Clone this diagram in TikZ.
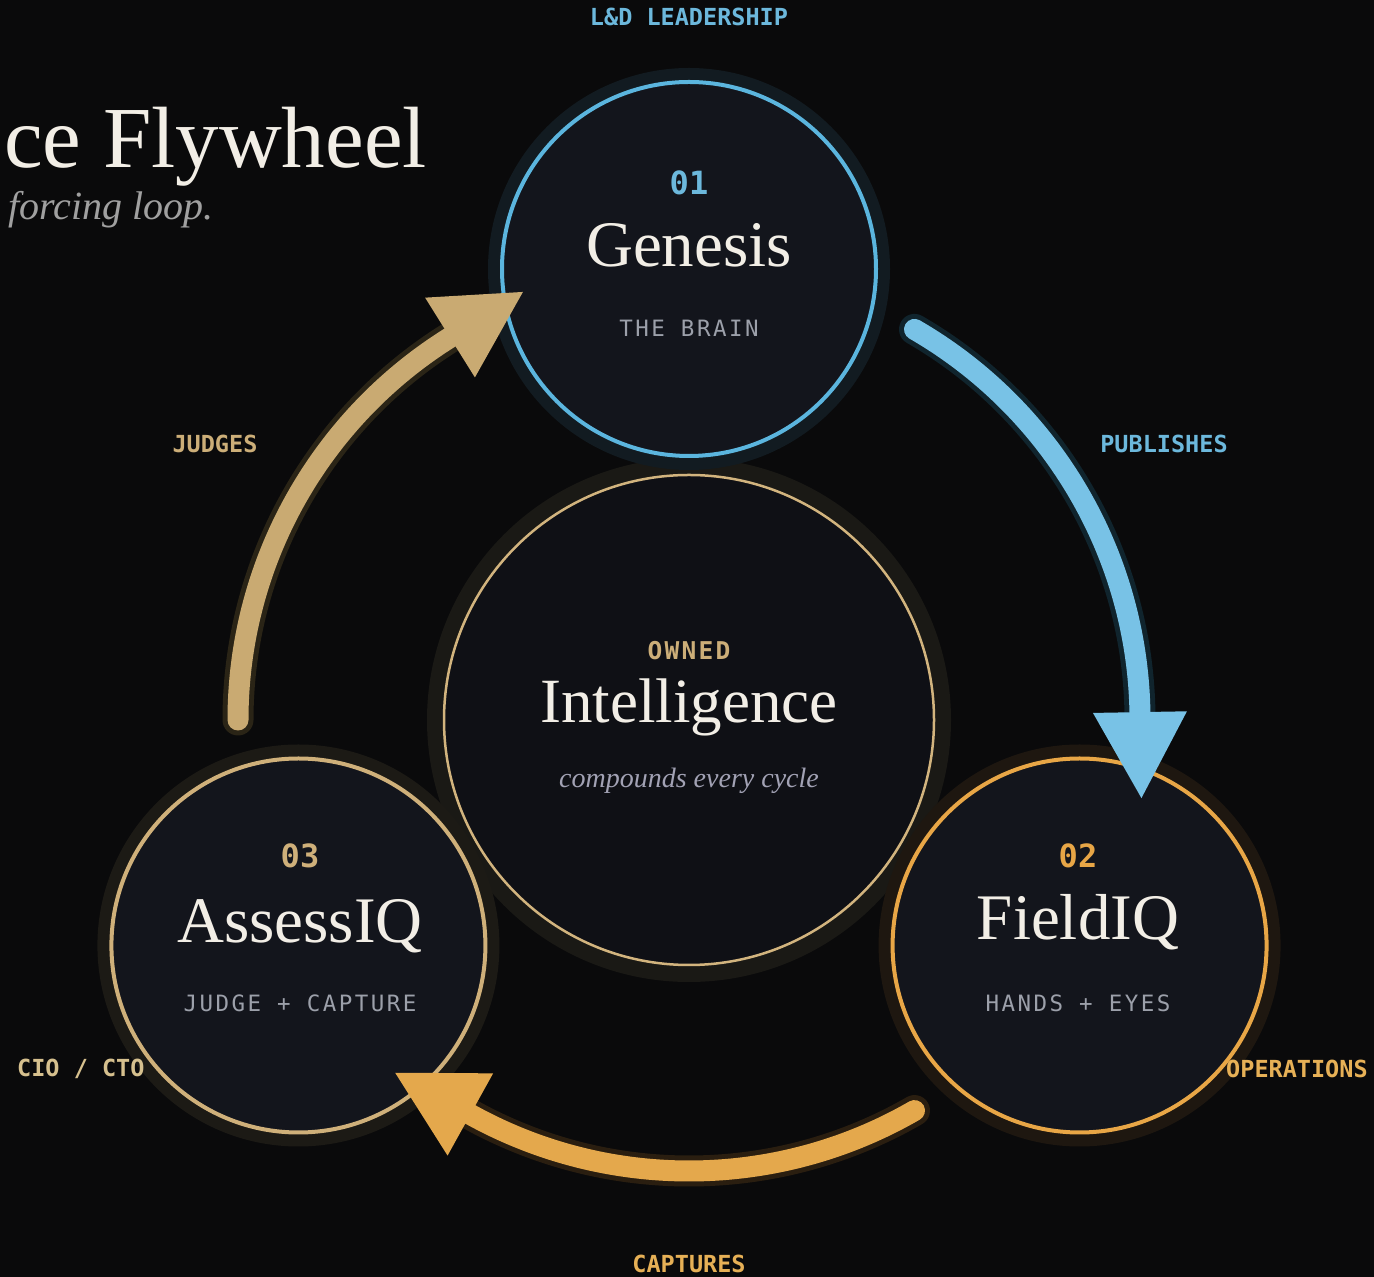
\documentclass[tikz,border=0pt]{standalone}
\usepackage{fontspec}
\setmainfont{Liberation Serif}
\newfontfamily\monof{DejaVu Sans Mono}
\newfontfamily\monoLS[LetterSpace=11]{DejaVu Sans Mono}
\newfontfamily\monoOW[LetterSpace=9]{DejaVu Sans Mono}
\usetikzlibrary{calc}
\definecolor{bgc}{HTML}{0A0A0B}
\definecolor{circfill}{HTML}{13151C}
\definecolor{intelfill}{HTML}{0F1015}
\definecolor{bluering}{HTML}{5BB5DE}
\definecolor{bluearr}{HTML}{78C2E6}
\definecolor{bluelbl}{HTML}{6CB8DC}
\definecolor{orangering}{HTML}{E8A646}
\definecolor{orangearr}{HTML}{E4A84C}
\definecolor{orangelbl}{HTML}{E6B056}
\definecolor{tanring}{HTML}{CFB07A}
\definecolor{intelring}{HTML}{D2B47E}
\definecolor{tanarr}{HTML}{C9AA72}
\definecolor{tanlbl}{HTML}{CCAE78}
\definecolor{ciolbl}{HTML}{D6C08E}
\definecolor{graytxt}{HTML}{9CA0AA}
\definecolor{italtxt}{HTML}{A2A2B4}
\definecolor{whitetxt}{HTML}{F2EEE6}
\definecolor{subtitle}{HTML}{A0A0A0}
\definecolor{genglow}{HTML}{121B21}
\definecolor{intelglow}{HTML}{1A1915}
\definecolor{fieldglow}{HTML}{1E1710}
\definecolor{assessglow}{HTML}{1C1A15}
\definecolor{blueshadow}{HTML}{10242D}
\definecolor{tanshadow}{HTML}{2A2416}
\definecolor{orangeshadow}{HTML}{2A1E10}
\begin{document}
\begin{tikzpicture}[x=1pt,y=1pt,
  stage/.style={circle, inner sep=0pt, minimum size=374pt, line width=4pt, fill=circfill},
  glowring/.style={preaction={draw=#1, line width=28pt}},
  lbl/.style={font=\monof\bfseries\fontsize{23.5}{26}\selectfont, anchor=base, inner sep=0pt},
  numtxt/.style={font=\monof\bfseries\fontsize{32}{36}\selectfont, anchor=base, inner sep=0pt},
  roletxt/.style={font=\monoLS\fontsize{22.5}{26}\selectfont, anchor=base, inner sep=0pt, text=graytxt},
  stagetitle/.style={font=\fontsize{65}{70}\selectfont, anchor=base, inner sep=0pt, text=whitetxt},
  flowline/.style 2 args={line cap=round, line width=21pt, draw=#1, preaction={draw=#2, line width=31pt, line cap=round}}
]
\fill[bgc] (0,0) rectangle (1374,1277);
\useasboundingbox (0,0) rectangle (1374,1277);
\coordinate (C) at (689,557);

% title
\node[anchor=base east, inner sep=0pt, text=whitetxt, font=\fontsize{87}{94}\selectfont] (title) at (427,1109) {ce Flywheel};
\node[anchor=base east, inner sep=0pt, text=subtitle, font=\itshape\fontsize{40}{44}\selectfont] (subt) at (214,1057) {forcing loop.};

% center circle
\node[circle, inner sep=0pt, minimum size=490pt, line width=2.5pt, fill=intelfill, draw=intelring, preaction={draw=intelglow, line width=34pt}] (intel) at (C) {};

% stage circles
\node[stage, draw=bluering, glowring=genglow] (gen) at ($(C)+(90:451)$) {};
\node[stage, draw=orangering, glowring=fieldglow] (fld) at ($(C)+(-30:451)$) {};
\node[stage, draw=tanring, glowring=assessglow] (ass) at ($(C)+(210:451)$) {};

% texts in circles
\node[numtxt, text=bluelbl] (n1) at (689,1082) {01};
\node[stagetitle] (t1) at (689,1010) {Genesis};
\node[roletxt] (r1) at (689,940) {THE BRAIN};

\node[lbl, font=\monoOW\bfseries\fontsize{24.5}{28}\selectfont, text=tanlbl] (own) at (689,617) {OWNED};
\node[stagetitle, font=\fontsize{63}{68}\selectfont] (ti) at (689,554) {Intelligence};
\node[anchor=base, inner sep=0pt, text=italtxt, font=\itshape\fontsize{28}{32}\selectfont] (ci) at (689,489) {compounds every cycle};

\node[numtxt, text=orangering] (n2) at (1078,409) {02};
\node[stagetitle] (t2) at (1078,337) {FieldIQ};
\node[roletxt] (r2) at (1078,265) {HANDS + EYES};

\node[numtxt, text=tanring] (n3) at (300,409) {03};
\node[stagetitle] (t3) at (300,334) {AssessIQ};
\node[roletxt] (r3) at (300,265) {JUDGE + CAPTURE};

% outer labels
\node[lbl, text=bluelbl] (lead) at (689,1251) {L\&D LEADERSHIP};
\node[lbl, text=bluelbl] (pub) at (1164,824) {PUBLISHES};
\node[lbl, text=tanlbl] (jud) at (215,824) {JUDGES};
\node[lbl, text=orangelbl] (cap) at (689,4) {CAPTURES};
\node[lbl, anchor=base west, text=ciolbl] (cio) at (17,200) {CIO / CTO};
\node[lbl, anchor=base west, text=orangelbl] (ops) at (1226,199) {OPERATIONS};

% arrows
\coordinate (a1s) at ($(C)+(60:451)$);
\coordinate (a1e) at ($(C)+(1:451)$);
\coordinate (a1t) at ($(a1e)+(-89:86)$);
\draw[flowline={bluearr}{blueshadow}] (a1s) arc[start angle=60, end angle=1, radius=451];
\fill[bluearr] ($(C)+(1:404)$) -- ($(C)+(1:498)$) -- (a1t) -- cycle;

\coordinate (a2s) at ($(C)+(-60:451)$);
\coordinate (a2e) at ($(C)+(-119:451)$);
\coordinate (a2t) at ($(a2e)+(151:86)$);
\draw[flowline={orangearr}{orangeshadow}] (a2s) arc[start angle=-60, end angle=-119, radius=451];
\fill[orangearr] ($(C)+(-119:404)$) -- ($(C)+(-119:498)$) -- (a2t) -- cycle;

\coordinate (a3s) at ($(C)+(180:451)$);
\coordinate (a3e) at ($(C)+(122:451)$);
\coordinate (a3t) at ($(a3e)+(32:86)$);
\draw[flowline={tanarr}{tanshadow}] (a3s) arc[start angle=180, end angle=122, radius=451];
\fill[tanarr] ($(C)+(122:404)$) -- ($(C)+(122:498)$) -- (a3t) -- cycle;
\end{tikzpicture}
\end{document}
